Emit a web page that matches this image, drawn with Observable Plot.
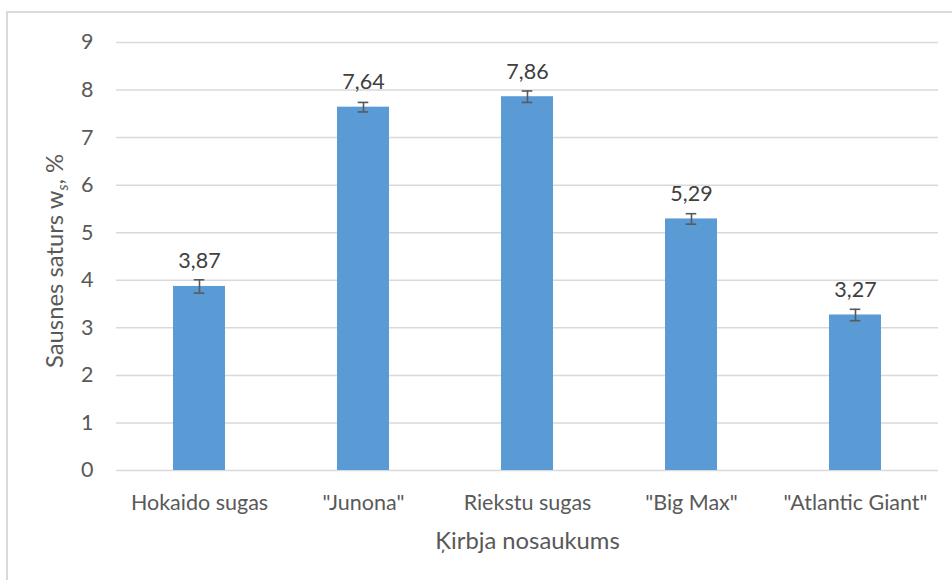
<!DOCTYPE html>
<html><head><meta charset="utf-8">
<script src="https://cdn.jsdelivr.net/npm/d3@7"></script>
<script src="https://cdn.jsdelivr.net/npm/@observablehq/plot@0.6"></script>
<style>
body{margin:0;background:#fff;}
#wrap{position:relative;width:952px;height:580px;overflow:hidden;}
#border{position:absolute;left:6px;top:11px;width:1000px;height:1000px;border-left:2px solid #d9d9d9;border-top:2px solid #d9d9d9;}
#chart{position:absolute;left:0;top:0;}
</style></head><body>
<div id="wrap"><div id="border"></div><div id="chart"></div></div>
<script>
const categories = ["Hokaido sugas", "\"Junona\"", "Riekstu sugas", "\"Big Max\"", "\"Atlantic Giant\""];
const values = [3.87, 7.64, 7.86, 5.29, 3.27];
const errors = [0.14, 0.10, 0.12, 0.11, 0.12];
const valueLabels = ["3,87", "7,64", "7,86", "5,29", "3,27"];
const yTicks = [0, 1, 2, 3, 4, 5, 6, 7, 8, 9];
const xTitle = "Ķirbja nosaukums";
const yTitleMain = "Sausnes saturs w";
const yTitleSub = "s";
const yTitleEnd = ", %";

const data = categories.map((c, i) => ({cat: c, v: values[i], e: errors[i], label: valueLabels[i]}));
const font = "Lato, 'Open Sans', sans-serif";
const fs = 21.5;
const fsTitle = 23.8;

const chart = Plot.plot({
  width: 952, height: 580,
  marginLeft: 116, marginRight: 14, marginTop: 42, marginBottom: 110,
  style: {fontFamily: font, fontSize: fs + "px", color: "#595959", background: "transparent", overflow: "visible"},
  x: {domain: categories, padding: 0, label: null},
  y: {domain: [0, 9], ticks: yTicks, label: null},
  marks: [
    Plot.gridY(yTicks, {stroke: "#d9d9d9", strokeOpacity: 1, strokeWidth: 1.5}),
    Plot.axisY(yTicks, {tickSize: 0, tickPadding: 23, fontSize: fs, fill: "#595959", label: null}),
    Plot.axisX({tickSize: 0, tickPadding: 24, fontSize: fs, fill: "#595959", label: null}),
    Plot.barY(data, {x: "cat", y: "v", fill: "#5B9BD5", insetLeft: 56, insetRight: 56}),
    Plot.ruleX(data, {x: "cat", y1: d => d.v - d.e, y2: d => d.v + d.e, stroke: "#595959", strokeWidth: 1.6}),
    Plot.tickY(data, {x: "cat", y: d => d.v + d.e, stroke: "#595959", strokeWidth: 1.6, insetLeft: 76.7, insetRight: 76.7}),
    Plot.tickY(data, {x: "cat", y: d => d.v - d.e, stroke: "#595959", strokeWidth: 1.6, insetLeft: 76.7, insetRight: 76.7}),
    Plot.text(data, {x: "cat", y: "v", text: "label", lineAnchor: "bottom", dy: -18, fill: "#404040", fontSize: fs}),
    Plot.text([xTitle], {frameAnchor: "bottom", dy: 78, lineAnchor: "bottom", fill: "#595959", fontSize: fsTitle})
  ]
});

const svg = d3.select(chart);
const yc = chart.scale("y").apply(4.5) + 5;
const t = svg.append("text")
  .attr("transform", `translate(63,${yc}) rotate(-90)`)
  .attr("text-anchor", "middle")
  .attr("fill", "#595959")
  .attr("font-size", fsTitle)
  .attr("font-family", font);
t.append("tspan").text(yTitleMain);
t.append("tspan").attr("font-size", 15).attr("font-style", "italic").attr("dy", 5).text(yTitleSub);
t.append("tspan").attr("dy", -5).text(yTitleEnd);

document.getElementById("chart").appendChild(chart);
</script>
</body></html>
